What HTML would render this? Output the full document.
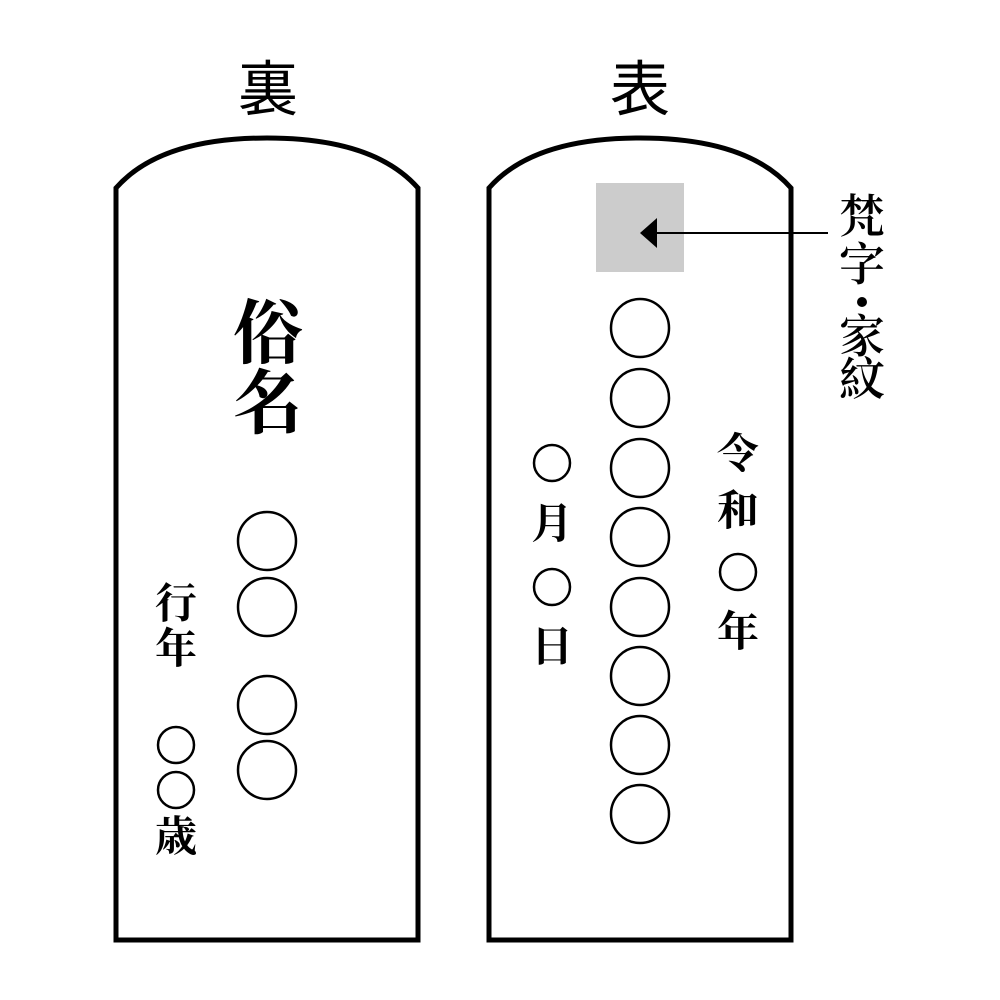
<!DOCTYPE html>
<html><head><meta charset="utf-8"><style>
html,body{margin:0;padding:0;background:#fff;}
svg{display:block}
.s{font-family:"Liberation Serif","Noto Serif CJK SC",serif;font-weight:bold;fill:#000;text-anchor:middle;dominant-baseline:central}
.m{font-family:"Liberation Serif","Noto Serif CJK SC",serif;font-weight:600;fill:#000;text-anchor:middle;dominant-baseline:central}
.t{font-family:"Liberation Sans","Noto Sans CJK JP",sans-serif;font-weight:400;fill:#000;text-anchor:middle;dominant-baseline:central}
</style></head><body>
<svg width="1000" height="1000" viewBox="0 0 1000 1000">
<text class="t" x="268" y="90" font-size="60">裏</text>
<text class="t" x="640" y="90" font-size="60">表</text>
<path d="M116 940 L116 188 Q160 138 267 138 Q374 138 418 188 L418 940 Z" fill="none" stroke="#000" stroke-width="5"/>
<path d="M489 940 L489 188 Q533 138 640 138 Q747 138 791 188 L791 940 Z" fill="none" stroke="#000" stroke-width="5"/>
<rect x="596" y="183" width="88" height="89" fill="#cccccc"/>
<line x1="828" y1="233" x2="655" y2="233" stroke="#000" stroke-width="2"/>
<polygon points="640,233 657,218 657,248" fill="#000"/>
<text class="m" x="862" y="217" font-size="46">梵</text>
<text class="m" x="862" y="265" font-size="46">字</text>
<circle cx="862" cy="302" r="5" fill="#000"/>
<text class="m" x="862" y="337" font-size="46">家</text>
<text class="m" x="862" y="380" font-size="46">紋</text>
<g fill="none" stroke="#000" stroke-width="2.5">
<circle cx="267" cy="541" r="29"/><circle cx="267" cy="607" r="29"/>
<circle cx="267" cy="705" r="29"/><circle cx="267" cy="770" r="29"/>
<circle cx="640" cy="328" r="29"/><circle cx="640" cy="398" r="29"/>
<circle cx="640" cy="468" r="29"/><circle cx="640" cy="537" r="29"/>
<circle cx="640" cy="607" r="29"/><circle cx="640" cy="676" r="29"/>
<circle cx="640" cy="745" r="29"/><circle cx="640" cy="814" r="29"/>
<circle cx="176" cy="745" r="18"/><circle cx="176" cy="790" r="18"/>
<circle cx="552" cy="463" r="18"/><circle cx="552" cy="587" r="18"/>
<circle cx="738" cy="572" r="18"/>
</g>
<text class="s" x="268" y="335" font-size="70">俗</text>
<text class="s" x="268" y="405" font-size="70">名</text>
<text class="s" x="176" y="605" font-size="42">行</text>
<text class="s" x="176" y="650" font-size="42">年</text>
<text class="s" x="176" y="838" font-size="42">歳</text>
<text class="s" x="552" y="525" font-size="42">月</text>
<text class="s" x="552" y="648" font-size="42">日</text>
<text class="s" x="738" y="455" font-size="42">令</text>
<text class="s" x="738" y="512" font-size="42">和</text>
<text class="s" x="738" y="633" font-size="42">年</text>
</svg>
</body></html>
